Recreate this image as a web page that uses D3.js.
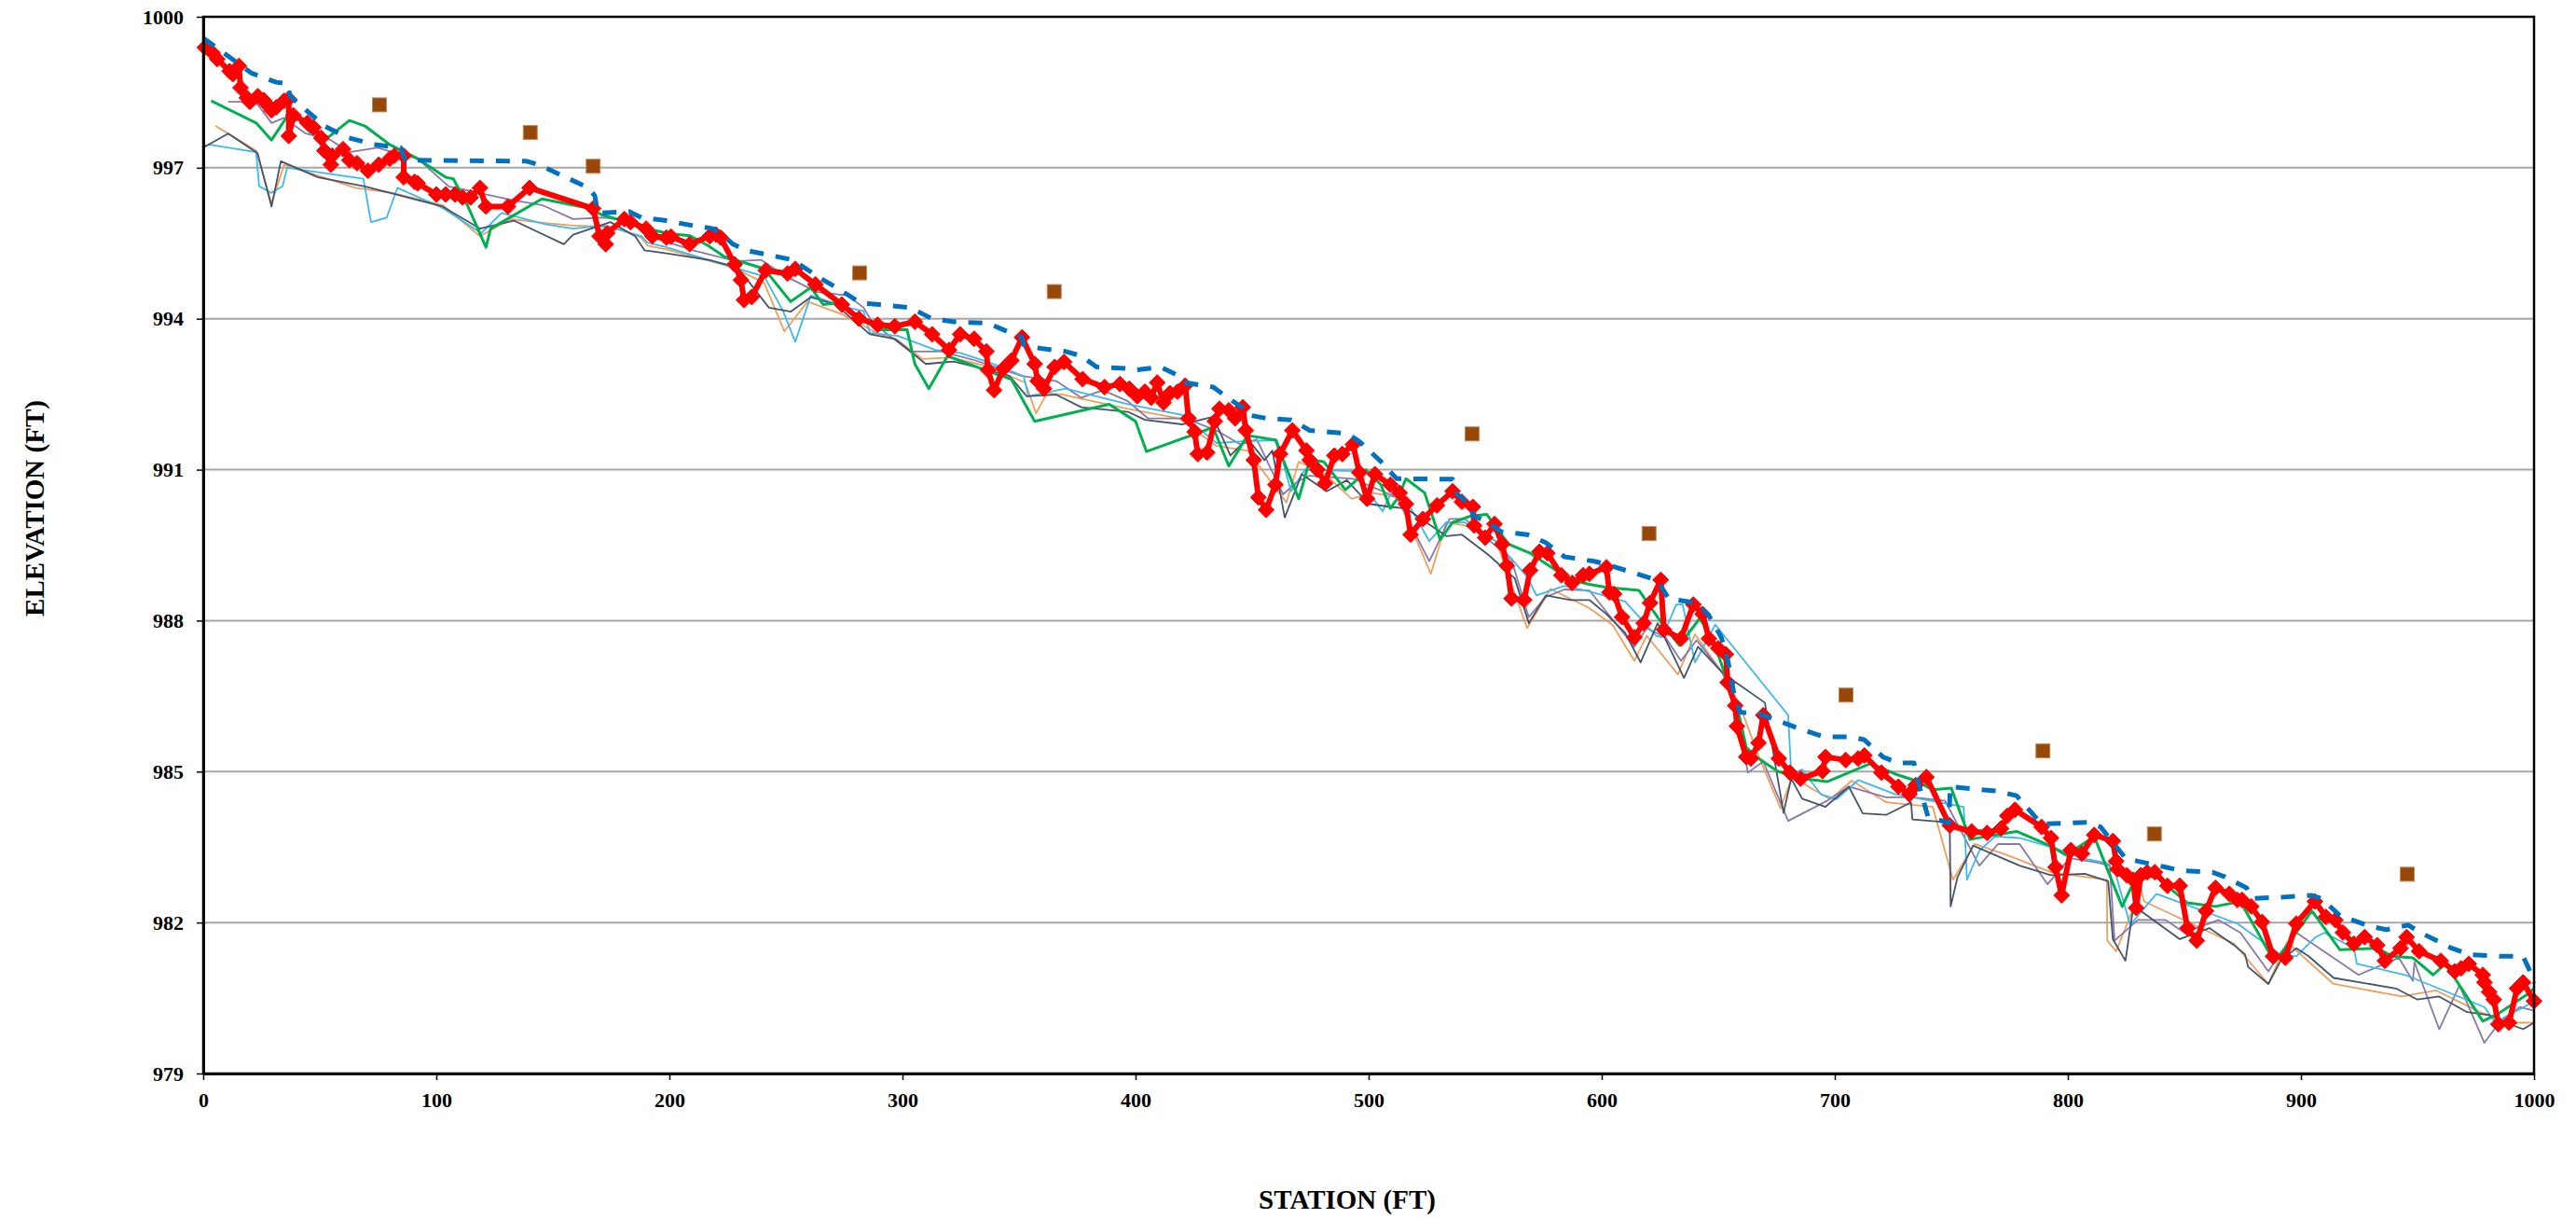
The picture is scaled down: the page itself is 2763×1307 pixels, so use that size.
<!DOCTYPE html>
<html>
<head>
<meta charset="utf-8">
<script src="https://cdn.jsdelivr.net/npm/d3@7"></script>
<style>
  html, body { margin: 0; padding: 0; background: #ffffff; overflow: hidden; }
  svg { display: block; }
</style>
</head>
<body>
<script>
// ---------- DATA (station ft, elevation ft) ----------
const xTicks = [0, 100, 200, 300, 400, 500, 600, 700, 800, 900, 1000];
const yTicks = [979, 982, 985, 988, 991, 994, 997, 1000];

// Thalweg profile (red, diamonds)
const thalweg = [[0.7,999.39],[4.0,999.28],[6.0,999.16],[11.3,998.92],[12.7,998.86],[15.3,999.02],[16.0,998.59],[18.7,998.39],[20.0,998.31],[23.4,998.42],[26.0,998.34],[27.3,998.26],[29.3,998.14],[31.3,998.20],[34.7,998.33],[36.7,998.37],[36.7,997.63],[38.7,998.04],[44.7,997.89],[47.3,997.80],[50.7,997.59],[52.0,997.34],[54.7,997.06],[55.3,997.24],[60.0,997.37],[62.7,997.15],[66.0,997.09],[70.7,996.94],[75.3,997.06],[80.0,997.18],[82.0,997.24],[86.0,997.24],[86.0,996.81],[90.7,996.72],[92.0,996.69],[100.0,996.47],[104.0,996.47],[108.0,996.47],[111.3,996.41],[114.7,996.41],[118.7,996.60],[121.3,996.23],[130.7,996.23],[140.0,996.60],[167.3,996.19],[170.0,995.64],[172.7,995.48],[173.3,995.70],[180.7,995.98],[183.3,995.92],[190.0,995.79],[192.7,995.64],[198.7,995.61],
[200.7,995.63],[208.7,995.48],[217.3,995.64],[220.0,995.67],[222.0,995.61],[228.0,995.08],[230.7,994.77],[232.0,994.37],[235.3,994.43],[241.3,994.96],[250.7,994.90],[254.0,994.99],[262.7,994.68],[274.0,994.28],[281.3,994.00],[289.3,993.88],[296.7,993.85],[305.3,993.94],[312.7,993.69],[320.0,993.38],[324.7,993.69],[330.7,993.60],[336.0,993.35],[336.7,992.98],[339.3,992.58],[343.3,993.01],[346.7,993.17],[351.3,993.63],[356.7,993.10],[358.0,992.76],[360.7,992.61],[365.3,993.04],[369.3,993.14],[377.3,992.80],[386.7,992.64],[393.3,992.70],
[397.3,992.61],[400.7,992.46],[404.0,992.55],[406.7,992.43],[409.3,992.73],[412.0,992.33],[414.7,992.52],[418.0,992.55],[421.3,992.67],[422.7,992.02],[425.3,991.75],[426.7,991.31],[430.7,991.34],[434.0,991.96],[436.0,992.21],[440.0,992.18],[442.7,992.02],[446.0,992.24],[447.3,991.78],[450.7,991.19],[452.7,990.45],[456.0,990.20],[460.0,990.70],[462.0,991.31],[467.3,991.78],[473.3,991.38],[474.7,991.19],[478.0,991.00],[481.3,990.73],[485.3,991.28],[488.7,991.31],[493.3,991.50],[496.0,990.94],[499.3,990.42],[502.7,990.91],[509.3,990.70],[513.3,990.54],[516.0,990.32],[518.0,989.71],[523.3,990.02],[529.3,990.29],[536.0,990.57],[540.0,990.36],[544.7,990.26],[545.3,989.89],[550.0,989.65],[554.0,989.92],[557.3,989.52],[559.3,989.09],[561.3,988.44],[566.7,988.41],[569.3,989.00],[573.3,989.37],[576.7,989.34],[582.7,988.90],[587.3,988.75],[592.0,988.90],
[594.7,988.93],[602.0,989.06],[603.3,988.56],[605.3,988.53],[608.7,988.07],[614.0,987.67],[618.0,987.95],[620.7,988.35],[625.3,988.81],[626.7,987.82],[634.0,987.64],[639.3,988.32],[643.3,988.13],[646.0,987.64],[650.0,987.45],[653.3,987.33],[654.0,986.77],[657.3,986.31],[658.0,985.90],[662.0,985.29],[664.0,985.26],[667.3,985.57],[669.3,986.12],[676.0,985.26],[680.7,984.98],[685.3,984.86],[694.7,985.01],[696.0,985.29],[704.7,985.23],[710.0,985.26],[712.7,985.32],[720.0,984.98],[727.3,984.70],[732.0,984.55],[734.7,984.73],[739.3,984.89],[749.3,983.93],[758.7,983.81],[765.3,983.78],[771.3,983.87],[774.0,984.12],[777.3,984.24],[788.7,983.90],[792.7,983.68],
[794.7,983.10],[797.3,982.54],[801.3,983.44],[806.0,983.37],[811.3,983.74],[819.3,983.62],[820.7,983.22],[821.3,983.06],[825.3,982.94],[828.0,982.85],[829.3,982.29],[831.3,982.94],[834.0,983.00],[837.3,983.00],[842.7,982.73],[848.0,982.73],[851.3,981.89],[855.3,981.64],[859.3,982.23],[863.3,982.69],[869.3,982.57],[872.7,982.45],[874.7,982.45],[878.7,982.32],[883.3,982.01],[888.0,981.33],[893.3,981.30],[898.0,981.98],[906.0,982.42],[910.7,982.11],[914.7,982.05],[918.0,981.80],[922.7,981.58],[927.3,981.71],[932.7,981.55],[936.0,981.24],[942.7,981.49],[945.3,981.71],[950.7,981.43],[960.0,981.24],[966.0,981.03],[968.7,981.09],[972.0,981.18],[978.0,980.96],[978.7,980.81],[980.7,980.62],[982.7,980.47],[984.7,979.98],[989.3,980.01],[992.7,980.69],[995.3,980.81],[1000.0,980.44]];

// Water surface (blue dashed)
const waterSurface = [[0,999.58],[20.7,998.88],[31.3,998.70],[36.0,998.67],[37.3,998.42],[42.7,998.20],[52.0,997.83],[61.3,997.61],[73.3,997.46],[84.7,997.40],[86.7,997.15],[138.7,997.13],[144.0,997.06],[165.3,996.60],[168.0,996.44],[169.3,996.10],[182.7,996.13],[188.0,996.01],[198.7,995.95],[210.0,995.85],[218.7,995.79],[222.7,995.67],[227.3,995.48],[232.7,995.36],[252.7,995.17],[266.0,994.77],[272.7,994.59],[282.0,994.31],[290.0,994.28],[303.3,994.22],[312.7,994.00],[322.0,993.94],[336.7,993.91],[343.3,993.78],[351.3,993.63],[352.0,993.48],[359.3,993.41],[370.0,993.35],[376.7,993.26],[383.3,993.04],[396.7,993.01],[400.0,992.98],[410.7,993.04],[418.7,992.86],[421.3,992.73],[433.3,992.64],[438.7,992.46],[442.7,992.33],[446.7,992.21],[448.0,992.09],[456.0,992.02],[466.7,991.99],[469.3,991.93],[474.7,991.78],[490.7,991.72],[496.0,991.56],[505.3,991.16],[512.0,990.82],[536.0,990.81],[538.0,990.51],[544.0,990.29],[544.7,990.08],[550.7,989.98],[553.3,989.89],[556.7,989.77],[568.0,989.71],[576.0,989.55],[584.0,989.27],[596.7,989.18],[602.0,989.12],[623.3,988.81],[625.3,988.69],[628.7,988.44],[632.7,988.41],[640.7,988.35],[646.0,988.10],[651.3,987.67],[654.0,987.24],[656.7,986.56],[659.3,986.18],[667.3,986.15],[672.7,986.06],[683.3,985.88],[695.3,985.69],[707.3,985.69],[712.7,985.63],[720.7,985.29],[727.3,985.17],[734.0,985.17],[736.0,984.75],[740.0,984.10],[749.0,983.98],[749.5,984.70],[770.0,984.61],[778.0,984.52],[788.7,983.96],[808.7,983.99],[814.0,983.90],[824.7,983.28],[830.0,983.22],[842.0,983.10],[848.7,983.03],[862.0,983.00],[867.3,982.91],[876.7,982.69],[879.3,982.48],[894.0,982.51],[904.7,982.54],[908.7,982.48],[916.7,982.14],[922.0,982.05],[930.0,981.92],[936.7,981.86],[946.0,981.95],[951.3,981.80],[964.7,981.49],[972.7,981.36],[986.0,981.33],[995.3,981.33],[998.7,980.99],[1000.0,980.80]];

// Green profile
const profileGreen = [[3.4,998.33],[22.7,997.89],[29.3,997.55],[38.0,998.16],[45.7,997.71],[53.8,997.61],[62.7,997.94],[69.3,997.83],[80.0,997.46],[92.0,997.18],[104.0,996.81],[107.3,996.78],[113.3,996.26],[121.3,995.42],[123.3,995.79],[145.3,996.38],[166.0,996.19],[170.7,996.07],[193.3,995.76],[198.7,995.70],[208.7,995.65],[216.7,995.45],[223.3,995.24],[240.7,994.99],[252.0,994.34],[260.7,994.62],[266.0,994.28],[271.3,994.31],[282.0,994.03],[290.0,993.78],[302.0,993.78],[305.3,993.10],[311.3,992.61],[319.3,993.26],[340.7,992.89],[346.7,992.80],[356.7,991.96],[388.7,992.30],[396.7,992.06],[400.0,991.96],[404.7,991.36],[433.3,991.84],[440.0,991.07],[448.0,991.68],[460.0,991.59],[470.0,990.42],[474.7,991.19],[480.7,991.16],[490.0,990.60],[494.0,990.76],[498.7,991.00],[505.3,990.70],[509.3,990.23],[512.7,990.45],[516.0,990.82],[524.0,990.54],[530.7,989.61],[536.0,989.95],[544.0,990.08],[550.7,990.11],[560.0,989.52],[569.3,989.34],[581.3,988.97],[589.3,988.78],[594.7,988.72],[602.0,988.66],[616.0,988.60],[625.3,987.98],[633.3,987.51],[642.0,988.04],[647.3,987.67],[652.7,986.96],[658.0,986.31],[662.0,985.48],[667.3,985.26],[675.3,985.01],[686.0,984.86],[696.7,984.80],[715.3,985.16],[726.0,984.95],[734.0,984.83],[742.0,984.64],[750.0,984.67],[758.0,983.65],[764.7,983.71],[778.0,983.81],[792.7,983.52],[799.3,983.34],[811.3,983.71],[823.3,982.32],[829.3,982.91],[838.0,982.91],[851.3,982.39],[863.3,982.32],[874.0,982.42],[888.7,981.21],[904.7,982.23],[916.7,981.46],[932.7,981.49],[939.3,981.33],[948.0,981.30],[956.7,980.96],[962.0,981.18],[978.0,980.04],[984.7,980.19],[996.7,980.56],[1000.0,980.69]];

// Dark slate profile
const profileDark = [[0,997.40],[10.7,997.68],[23.3,997.29],[29.3,996.23],[33.3,997.13],[49.3,996.81],[69.3,996.63],[102.7,996.23],[118.7,995.79],[133.3,995.95],[154.7,995.48],[158.7,995.67],[174.7,995.92],[185.3,995.64],[189.3,995.36],[198.7,995.30],[216.7,995.17],[229.3,995.02],[242.7,994.22],[252.0,994.14],[260.7,994.43],[271.3,994.28],[286.0,993.69],[296.7,993.60],[310.0,993.10],[322.0,993.15],[336.7,992.98],[346.0,992.86],[353.3,992.46],[366.0,992.49],[376.7,992.24],[396.7,992.15],[404.0,991.99],[420.0,991.90],[433.3,992.05],[440.7,991.28],[448.0,991.62],[455.3,991.19],[458.7,991.38],[464.0,990.05],[471.3,990.91],[482.0,990.57],[490.7,990.79],[500.0,990.32],[509.3,990.26],[516.0,990.23],[526.7,989.89],[533.3,989.68],[540.0,989.71],[551.3,989.31],[562.7,988.84],[568.7,987.95],[576.0,988.50],[586.7,988.41],[594.7,988.41],[602.0,988.13],[610.0,987.76],[616.7,987.17],[624.0,987.95],[626.0,987.76],[635.3,986.86],[641.3,987.48],[651.3,986.99],[656.7,986.80],[670.0,986.37],[678.0,984.18],[681.3,984.86],[686.0,984.46],[696.0,984.30],[706.0,984.70],[712.0,984.17],[722.0,984.14],[732.7,984.39],[733.3,984.05],[749.3,983.99],[749.7,982.32],[752.7,982.91],[759.3,983.53],[779.3,983.13],[792.7,982.94],[807.3,982.97],[817.3,982.82],[819.3,981.67],[824.7,981.24],[828.0,982.29],[831.3,982.23],[848.0,981.67],[860.7,981.89],[871.3,981.55],[876.0,981.37],[877.3,981.12],[886.0,980.78],[891.3,981.24],[898.0,981.49],[903.3,981.33],[914.0,980.90],[940.7,980.69],[950.0,980.47],[959.3,980.53],[971.3,980.22],[980.7,980.16],[988.0,980.01],[995.3,979.88],[1000.0,980.01]];

// Light blue profile
const profileLightBlue = [[0,997.43],[2.7,997.46],[22.7,997.31],[24.0,996.63],[29.3,996.50],[34.0,996.63],[36.0,997.00],[68.7,996.78],[72.0,995.92],[78.7,996.01],[83.3,996.60],[102.7,996.20],[119.3,995.70],[128.0,996.10],[146.7,995.88],[158.7,995.79],[172.0,995.85],[188.0,995.64],[190.7,995.51],[198.7,995.42],[227.3,995.02],[240.7,994.84],[248.7,994.16],[254.0,993.54],[260.7,994.46],[276.7,994.22],[283.3,994.15],[286.0,993.72],[298.0,993.66],[314.0,993.38],[324.7,993.32],[336.7,993.14],[352.0,992.86],[354.0,992.46],[370.0,992.61],[396.7,992.30],[420.0,992.09],[434.7,991.53],[445.3,991.56],[460.7,991.59],[466.7,990.57],[472.7,991.00],[493.3,990.97],[506.0,990.17],[509.3,990.51],[514.7,990.51],[526.0,989.58],[533.3,989.95],[541.3,989.95],[554.7,989.58],[568.0,988.87],[572.0,988.50],[584.0,988.69],[594.7,988.58],[610.0,988.38],[616.7,988.04],[623.3,987.70],[626.0,987.67],[632.0,988.32],[634.7,988.32],[640.0,987.17],[648.7,987.92],[680.0,986.12],[681.3,984.95],[686.0,985.04],[694.0,984.55],[700.7,984.45],[710.0,984.83],[726.0,984.55],[755.3,984.30],[756.7,982.85],[762.0,983.43],[768.7,983.71],[779.3,983.68],[792.7,983.50],[806.0,983.28],[819.3,983.16],[826.7,981.95],[838.0,982.57],[872.7,981.98],[891.3,981.36],[898.0,981.33],[906.0,981.70],[910.0,981.80],[922.7,981.49],[924.0,981.18],[944.7,980.96],[978.7,980.32],[983.3,980.01],[998.0,980.38],[1000.0,980.35]];

// Orange profile
const profileOrange = [[5.3,997.83],[22.7,997.34],[29.3,996.29],[34.7,997.06],[65.3,996.60],[81.3,996.50],[102.7,996.26],[118.7,995.64],[132.0,995.98],[142.7,995.92],[158.7,995.85],[176.0,995.82],[188.0,995.61],[190.7,995.45],[198.7,995.38],[227.3,995.02],[240.7,994.71],[249.3,993.75],[259.3,994.34],[274.0,994.09],[288.7,993.72],[298.0,993.57],[308.7,993.20],[320.7,993.23],[335.3,993.07],[346.0,992.86],[352.7,992.73],[357.3,992.12],[362.0,992.52],[368.7,992.49],[396.7,992.21],[418.7,992.02],[434.7,991.47],[448.0,991.38],[464.7,990.35],[470.0,991.16],[481.3,990.91],[492.7,990.42],[501.3,990.54],[512.7,990.45],[526.7,988.93],[533.3,989.95],[541.3,989.89],[554.7,989.58],[568.0,987.85],[578.0,988.63],[594.7,988.25],[604.7,987.91],[614.0,987.20],[619.3,987.70],[632.7,986.93],[640.0,987.73],[651.3,986.99],[659.3,986.31],[666.7,985.38],[676.7,984.27],[682.0,984.92],[688.7,984.70],[698.0,984.45],[707.3,984.82],[722.0,984.39],[742.0,984.30],[750.7,982.85],[760.0,983.56],[774.0,983.34],[792.7,983.00],[816.7,982.85],[816.9,981.64],[820.7,981.43],[831.3,982.66],[832.7,982.42],[871.3,981.58],[886.0,980.78],[894.0,981.61],[914.0,980.78],[943.3,980.53],[958.0,980.65],[976.7,980.22],[990.0,980.01],[1000.0,980.01]];

// Purple profile
const profilePurple = [[10.7,998.31],[16.0,998.31],[23.3,998.26],[29.3,997.89],[34.7,997.99],[44.0,997.68],[54.7,997.55],[62.7,997.31],[74.7,997.40],[81.3,997.31],[92.0,997.18],[105.3,996.63],[133.3,996.35],[145.3,996.26],[158.7,995.98],[172.0,996.01],[182.7,995.95],[190.7,995.64],[198.7,995.53],[210.0,995.36],[228.7,995.14],[239.3,995.17],[250.0,994.84],[263.3,994.53],[276.7,994.46],[283.3,994.22],[287.3,993.91],[303.3,993.35],[316.7,993.35],[331.3,993.17],[351.3,992.86],[366.0,992.76],[376.7,992.43],[386.0,992.58],[396.7,992.36],[405.3,992.02],[421.3,992.02],[434.7,991.78],[445.0,991.50],[452.0,991.60],[463.3,990.51],[469.3,990.76],[474.7,990.88],[493.3,990.82],[512.0,990.45],[526.0,989.18],[534.7,990.02],[541.3,990.02],[561.3,989.21],[568.7,988.07],[576.0,988.47],[584.0,988.62],[594.7,988.60],[614.0,987.48],[619.3,987.85],[627.3,987.67],[634.0,987.20],[640.7,987.61],[652.0,986.95],[658.0,986.20],[662.7,984.98],[669.3,985.20],[680.0,984.02],[696.7,984.42],[706.0,984.70],[722.0,984.49],[734.0,984.49],[747.3,984.42],[762.0,983.13],[770.0,983.56],[779.3,983.56],[791.3,982.76],[800.7,983.28],[812.7,983.19],[818.0,983.13],[820.0,981.64],[830.0,982.05],[842.0,982.05],[850.0,981.80],[864.7,982.05],[874.0,981.80],[886.0,981.03],[891.3,981.40],[898.0,981.80],[924.7,980.96],[942.0,981.30],[948.0,980.84],[948.7,981.21],[959.3,979.88],[968.0,980.75],[978.7,979.61],[986.0,980.07],[994.0,980.32],[1000.0,980.25]];

// Brown square points
const bankPoints = [[75.6,998.25],[140.3,997.70],[167.3,997.03],[281.6,994.91],[365.1,994.54],[544.4,991.71],[620.3,989.73],[704.8,986.52],[789.3,985.41],[837.1,983.76],[945.6,982.96]];

// ---------- DRAW ----------
(function () {
const W = 2763, H = 1307;
const pL = 218, pR = 2718, pT = 18, pB = 1151;
const FONT = "'Liberation Serif', 'Times New Roman', serif";

const svg = d3.select("body").append("svg").attr("width", W).attr("height", H);
svg.append("rect").attr("width", W).attr("height", H).attr("fill", "#ffffff");

const x = d3.scaleLinear().domain([0, 1000]).range([pL, pR]);
const y = d3.scaleLinear().domain([979, 1000]).range([pB, pT]);

// gridlines
svg.append("g").selectAll("line").data(yTicks.filter(v => v > 979 && v < 1000)).join("line")
  .attr("x1", pL).attr("x2", pR)
  .attr("y1", d => y(d)).attr("y2", d => y(d))
  .attr("stroke", "#a6a6a6").attr("stroke-width", 2);

const line = d3.line().x(d => x(d[0])).y(d => y(d[1]));
const plot = svg.append("g");

function drawLine(data, color, width, dash) {
  const p = plot.append("path").datum(data).attr("d", line)
    .attr("fill", "none").attr("stroke", color).attr("stroke-width", width)
    .attr("stroke-linejoin", "round");
  if (dash) p.attr("stroke-dasharray", dash).attr("stroke-linecap", "butt");
  return p;
}

drawLine(profileOrange, "#ee9f5c", 1.8);
drawLine(profilePurple, "#8a78ab", 1.8);
drawLine(profileLightBlue, "#3db8ee", 1.8);
drawLine(profileDark, "#44546a", 1.8);
drawLine(profileGreen, "#00b050", 3);

// thalweg
drawLine(thalweg, "#ff0000", 6);
plot.append("g").selectAll("path").data(thalweg).join("path")
  .attr("transform", d => `translate(${x(d[0])},${y(d[1])})`)
  .attr("d", "M0,-8.5L8.5,0L0,8.5L-8.5,0Z")
  .attr("fill", "#ff0000").attr("stroke", "#ff0000").attr("stroke-width", 1);

// water surface dashed
drawLine(waterSurface, "#0070c0", 5, "15,13");

// brown squares
plot.append("g").selectAll("rect").data(bankPoints).join("rect")
  .attr("x", d => x(d[0]) - 7.5).attr("y", d => y(d[1]) - 7.5)
  .attr("width", 15).attr("height", 15)
  .attr("fill", "#974706").attr("stroke", "#c08a5c").attr("stroke-width", 1);

// frame
svg.append("rect").attr("x", pL).attr("y", pT)
  .attr("width", pR - pL).attr("height", pB - pT)
  .attr("fill", "none").attr("stroke", "#000").attr("stroke-width", 2.5);

// axes
const fmt = d3.format("d");
const xAxis = d3.axisBottom(x).tickValues(xTicks).tickFormat(fmt).tickSize(7).tickSizeOuter(0).tickPadding(13);
const gx = svg.append("g").attr("transform", `translate(0,${pB})`).call(xAxis);
const yAxis = d3.axisLeft(y).tickValues(yTicks).tickFormat(fmt).tickSize(7).tickSizeOuter(0).tickPadding(14);
const gy = svg.append("g").attr("transform", `translate(${pL},0)`).call(yAxis);

[gx, gy].forEach(g => {
  g.select(".domain").attr("stroke", "#000").attr("stroke-width", 3);
  g.selectAll(".tick line").attr("stroke", "#000").attr("stroke-width", 1.5);
  g.selectAll(".tick text")
    .attr("fill", "#000")
    .style("font-family", FONT).style("font-weight", "bold").style("font-size", "22px");
});

// axis titles
svg.append("text")
  .attr("x", 1445).attr("y", 1296)
  .attr("text-anchor", "middle")
  .style("font-family", FONT).style("font-weight", "bold").style("font-size", "29px")
  .text("STATION (FT)");

svg.append("text")
  .attr("transform", "translate(47,545) rotate(-90)")
  .attr("text-anchor", "middle")
  .style("font-family", FONT).style("font-weight", "bold").style("font-size", "29px")
  .text("ELEVATION (FT)");
})();
</script>
</body>
</html>
